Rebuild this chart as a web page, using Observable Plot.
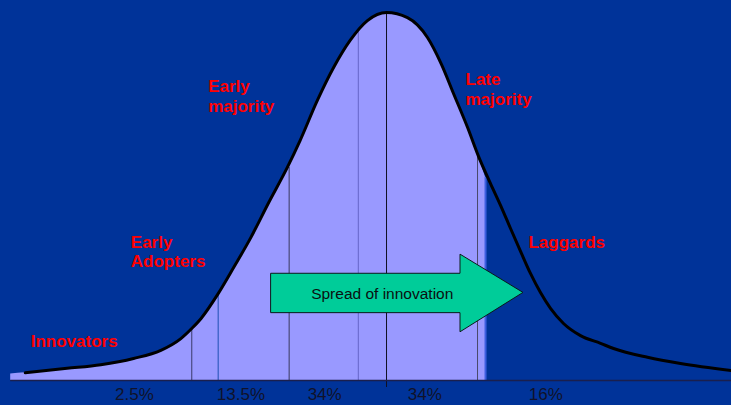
<!DOCTYPE html>
<html><head><meta charset="utf-8">
<script src="https://cdn.jsdelivr.net/npm/d3@7"></script>
<script src="https://cdn.jsdelivr.net/npm/@observablehq/plot@0.6"></script>
<style>
html,body{margin:0;padding:0;background:#003399;}
#chart{width:731px;height:405px;overflow:hidden;}
</style></head><body><div id="chart"></div>
<script>
// Adoption curve, x in standard deviations from the mean, y as share of peak height
const curveX = [-3.97,-3.51,-3.14,-2.78,-2.48,-2.26,-2.13,-2.04,-1.85,-1.68,-1.49,-1.30,-1.09,-0.95,-0.76,-0.58,-0.40,-0.21,0,0.23,0.45,0.60,0.736,0.890,1.011,1.143,1.253,1.363,1.473,1.582,1.692,1.802,1.945,2.132,2.352,2.495,2.868,3.231,3.791];
const curveY = [0.021,0.033,0.043,0.060,0.082,0.114,0.144,0.168,0.236,0.307,0.389,0.481,0.579,0.652,0.761,0.851,0.924,0.978,1.000,0.986,0.932,0.861,0.780,0.688,0.609,0.535,0.476,0.413,0.351,0.291,0.239,0.196,0.155,0.122,0.101,0.087,0.063,0.046,0.027];

// shaded region (starts a little left of the curve and stops just past +1 sd)
const shadeStart = {x: -4.13, y: 0.018};
const shadeEnd = {x: 1.088, y: 0.552};

// segment dividers
const dividerX = [-2.14, -1.85, -1.07, -0.31, 0, 1.00];
const dividerTop = [0.141, 0.236, 0.579, 0.946, 1.000, 0.612];

// category labels
const stageLabels = ["Innovators", "Early\nAdopters", "Early\nmajority", "Late\nmajority", "Laggards"];
const stageX = [-3.91, -2.81, -1.96, 0.868, 1.56];
const stageY = [0.129, 0.399, 0.821, 0.840, 0.397];

// share labels under the axis
const shareLabels = ["2.5%", "13.5%", "34%", "34%", "16%"];
const shareX = [-2.77, -1.60, -0.68, 0.42, 1.75];

// arrow annotation
const arrowText = "Spread of innovation";
const arrowX = [-1.264, 0.813, 0.813, 1.505];
const arrowLow = [0.183, 0.183, 0.131, 0.238];
const arrowHigh = [0.290, 0.290, 0.342, 0.238];

const curve = curveX.map((x, i) => ({x, y: curveY[i]}));
const shade = [shadeStart, ...curve.filter(d => d.x <= 1.02), shadeEnd];
const dividers = dividerX.map((x, i) => ({x, top: dividerTop[i], i}));
const dividerColors = ["#3a3a6a", "#1e50b4", "#3a3a5e", "#6464c8", "#111122", "#4a4a6a"];
const stages = stageLabels.map((t, i) => ({t, x: stageX[i], y: stageY[i]}));
const shares = shareLabels.map((t, i) => ({t, x: shareX[i]}));
const arrow = arrowX.map((x, i) => ({x, lo: arrowLow[i], hi: arrowHigh[i]}));

const font = "'Liberation Sans', Arial, Helvetica, sans-serif";

const chart = Plot.plot({
  width: 731,
  height: 405,
  margin: 0,
  style: {background: "#003399", fontFamily: font, overflow: "visible"},
  x: {domain: [-4.242, 3.791], range: [0, 731], axis: null},
  y: {domain: [0, 1], range: [380, 12], axis: null},
  marks: [
    Plot.areaY(shade, {x: "x", y: "y", fill: "#9999ff", curve: "monotone-x"}),
    Plot.ruleX(dividers, {x: "x", y1: d => d.x === 0 ? -0.019 : 0, y2: "top", stroke: d => dividerColors[d.i], strokeWidth: 1}),
    Plot.ruleX([shadeEnd], {x: "x", y1: 0, y2: "y", stroke: "#3d5fe0", strokeWidth: 2}),
    Plot.ruleY([0], {x1: shadeStart.x, x2: 3.79, stroke: "#1a1f4d", strokeWidth: 1.5}),
    Plot.line(curve, {x: "x", y: "y", stroke: "#000", strokeWidth: 3, curve: "monotone-x"}),
    Plot.areaY(arrow, {x: "x", y1: "lo", y2: "hi", fill: "#00cc99", stroke: "#0a1a1a", strokeWidth: 1, curve: "linear"}),
    Plot.text([arrowText], {x: -0.047, y: 0.236, text: d => d, fill: "#0a1010", fontSize: 15.5, fontFamily: font, textAnchor: "middle", lineAnchor: "middle"}),
    Plot.text(stages, {x: "x", y: "y", text: "t", fill: "#ff0000", fontSize: 17, fontWeight: "bold", fontFamily: font, textAnchor: "start", lineAnchor: "top", lineHeight: 1.15}),
    Plot.text(shares, {x: "x", y: -0.052, text: "t", fill: "#10122a", fontSize: 17, fontFamily: font, textAnchor: "middle", lineAnchor: "bottom"})
  ]
});
document.getElementById("chart").appendChild(chart);
</script>
</body></html>
